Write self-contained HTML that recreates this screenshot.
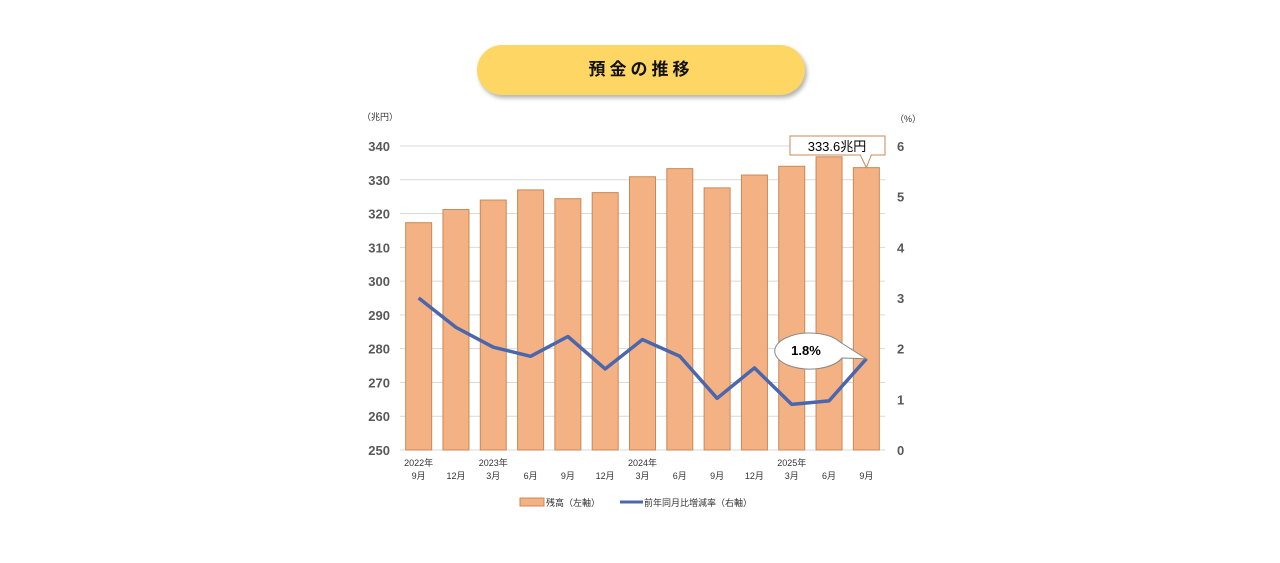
<!DOCTYPE html>
<html><head><meta charset="utf-8"><style>
body{margin:0;width:1280px;height:563px;background:#fff;overflow:hidden;font-family:"Liberation Sans","Noto Sans CJK JP",sans-serif}
#title{position:absolute;left:477px;top:45px;width:328px;height:50px;border-radius:25px;background:#FDD663;box-shadow:2px 3px 4px rgba(0,0,0,.3);text-align:center;line-height:50px;font-weight:bold;font-size:17px;letter-spacing:4px;color:#111}
svg{position:absolute;left:0;top:0}
text{font-family:"Liberation Sans","Noto Sans CJK JP",sans-serif}
</style></head><body>
<div id="title">預金の推移</div>
<svg id="c" width="1280" height="563"></svg>
<script>
const cats1=["2022年","","2023年","","","","2024年","","","","2025年","",""];
const cats2=["9月","12月","3月","6月","9月","12月","3月","6月","9月","12月","3月","6月","9月"];
const balance=[317.3,321.2,324.0,327.0,324.4,326.2,330.9,333.3,327.6,331.4,334.0,336.8,333.6];
const rate=[3.0,2.42,2.03,1.85,2.24,1.6,2.18,1.85,1.02,1.62,0.9,0.97,1.8];
const leftTicks=[250,260,270,280,290,300,310,320,330,340];
const rightTicks=[0,1,2,3,4,5,6];
const NS="http://www.w3.org/2000/svg",svg=document.getElementById('c');
function el(t,a,txt){const e=document.createElementNS(NS,t);for(const k in a)e.setAttribute(k,a[k]);if(txt!==undefined)e.textContent=txt;svg.appendChild(e);return e;}
const y0=450,y1=146,xl=400,xr=885;
const yL=v=>y0-(v-250)/90*(y0-y1);
const yR=v=>y0-v/6*(y0-y1);
const step=(xr-xl)/13;
const xc=i=>xl+step*(i+0.5);
leftTicks.forEach(v=>{
 let g=el('line',{x1:xl,x2:xr,y1:yL(v),y2:yL(v),stroke:'#d9d9d9','stroke-width':1});
 
 let t=el('text',{x:390,y:yL(v)+5,'text-anchor':'end','font-size':13,'font-weight':'bold',fill:'#595959'},v);
 
});
rightTicks.forEach(v=>{
 let t=el('text',{x:897,y:yR(v)+5,'font-size':13,'font-weight':'bold',fill:'#595959'},v);
 
});
let a=el('text',{x:362,y:120,'font-size':9,fill:'#333'},'（兆円）');
a=el('text',{x:895,y:122,'font-size':9,fill:'#333'},'（%）');
balance.forEach((v,i)=>{
 let r=el('rect',{x:xc(i)-13,y:yL(v),width:26,height:y0-yL(v),fill:'#F4B183',stroke:'#C98A55','stroke-width':1});
 
});
cats2.forEach((c,i)=>{
 if(cats1[i]){let t=el('text',{x:xc(i),y:466,'text-anchor':'middle','font-size':9,fill:'#333'},cats1[i]);}
 let t=el('text',{x:xc(i),y:479,'text-anchor':'middle','font-size':9,fill:'#333'},c);
 
});
let p=el('polyline',{points:rate.map((v,i)=>xc(i)+','+yR(v)).join(' '),fill:'none',stroke:'#4A67AE','stroke-width':3.5,'stroke-linejoin':'round'});

let n=balance.length-1;
// callout balance
let bx=xc(n),by=yL(balance[n]);
let cb=el('path',{d:`M790,136 H885 V155 H${bx+5} L${bx} ${by} L${bx-6} 155 H790 Z`,fill:'#fff',stroke:'#C98A55','stroke-width':1});

let ct=el('text',{x:837,y:151,'text-anchor':'middle','font-size':13,fill:'#000'},balance[n].toFixed(1)+'兆円');

// callout rate
let rx=xc(n),ry=yR(rate[n]);
let ce=el('path',{d:`M840,342 A35,18 0 1 0 842,358 L${rx} ${ry} Z`,fill:'#fff',stroke:'#888','stroke-width':1});

let ct2=el('text',{x:806,y:355,'text-anchor':'middle','font-size':13,'font-weight':'bold',fill:'#000'},rate[n].toFixed(1)+'%');

// legend
let l=el('rect',{x:520,y:498,width:24,height:8,fill:'#F4B183',stroke:'#C98A55'});
l=el('text',{x:546,y:506,'font-size':9,fill:'#333'},'残高（左軸）');
l=el('line',{x1:620,x2:643,y1:502,y2:502,stroke:'#4A67AE','stroke-width':3});
l=el('text',{x:644,y:506,'font-size':9,fill:'#333'},'前年同月比増減率（右軸）');
</script>
</body></html>
